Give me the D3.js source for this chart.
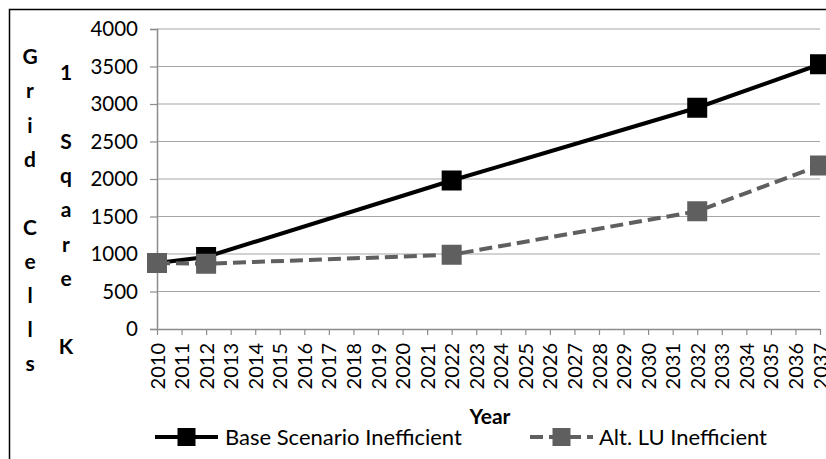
<!DOCTYPE html>
<html>
<head>
<meta charset="utf-8">
<script src="https://cdn.jsdelivr.net/npm/d3@7"></script>
<style>
  html, body { margin: 0; padding: 0; background: #fff; }
  svg { display: block; font-family: Lato, "Open Sans", sans-serif; }
</style>
</head>
<body>
<svg id="chart" width="826" height="459"></svg>
<script>
// Category axis: every year from 2010 to 2037
const years = d3.range(2010, 2038);
// Years with observations
const pointYears = [2010, 2012, 2022, 2032, 2037];
// Series values (grid cells)
const baseValues = [880, 960, 1980, 2950, 3530];
const altValues = [880, 870, 990, 1570, 2180];
const yTicks = [0, 500, 1000, 1500, 2000, 2500, 3000, 3500, 4000];
const seriesNames = ["Base Scenario Inefficient", "Alt. LU Inefficient"];
// Y title, one character per line, in two columns
const yTitleCol1 = ["G", "r", "i", "d", "", "C", "e", "l", "l", "s"];
const yTitleCol2 = ["1", "", "S", "q", "a", "r", "e", "", "K"];

const svg = d3.select("#chart");
const plotLeft = 157, plotRight = 820, plotTop = 29, plotBottom = 329;

const x = d3.scalePoint().domain(years).range([plotLeft, plotRight]).padding(0);
const y = d3.scaleLinear().domain([0, 4000]).range([plotBottom, plotTop]);

// Outer frame
svg.append("rect")
  .attr("x", 9.5).attr("y", 9.5)
  .attr("width", 840).attr("height", 470)
  .attr("fill", "none").attr("stroke", "#000").attr("stroke-width", 1.5);

// Horizontal gridlines
svg.append("g")
  .selectAll("line")
  .data(yTicks.filter(d => d > 0))
  .join("line")
  .attr("x1", plotLeft).attr("x2", plotRight)
  .attr("y1", d => y(d)).attr("y2", d => y(d))
  .attr("stroke", "#a6a6a6").attr("stroke-width", 1.2);

// Y axis
const yAxis = svg.append("g")
  .attr("transform", `translate(${plotLeft},0)`)
  .call(d3.axisLeft(y).tickValues(yTicks).tickSize(7).tickPadding(12).tickFormat(d3.format("d")));
yAxis.select(".domain").attr("stroke", "#8c8c8c").attr("stroke-width", 1.5);
yAxis.selectAll(".tick line").attr("stroke", "#8c8c8c").attr("stroke-width", 1.2);
yAxis.selectAll("text").attr("font-size", 20.5).attr("fill", "#000")
  .attr("font-family", "Lato, sans-serif");

// X axis
const xAxis = svg.append("g")
  .attr("transform", `translate(0,${plotBottom})`)
  .call(d3.axisBottom(x).tickSize(6).tickSizeOuter(0));
xAxis.select(".domain").attr("stroke", "#8c8c8c").attr("stroke-width", 1.5);
xAxis.selectAll(".tick line").attr("stroke", "#8c8c8c").attr("stroke-width", 1.2);
xAxis.selectAll("text")
  .attr("font-size", 20).attr("fill", "#000")
  .attr("font-family", "Lato, sans-serif")
  .attr("text-anchor", "end")
  .attr("transform", "rotate(-90)")
  .attr("x", -14).attr("y", 0).attr("dy", "0.35em");

// X title
svg.append("text")
  .attr("x", 490).attr("y", 424)
  .attr("text-anchor", "middle")
  .attr("font-size", 21).attr("font-weight", "bold")
  .text("Year");

// Y title columns
svg.append("g").selectAll("text")
  .data(yTitleCol1)
  .join("text")
  .attr("x", 30).attr("y", (d, i) => 57 + i * 34.1)
  .attr("dy", "0.35em")
  .attr("text-anchor", "middle")
  .attr("font-size", 21).attr("font-weight", "bold")
  .text(d => d);
svg.append("g").selectAll("text")
  .data(yTitleCol2)
  .join("text")
  .attr("x", 66).attr("y", (d, i) => 73 + i * 34.25)
  .attr("dy", "0.35em")
  .attr("text-anchor", "middle")
  .attr("font-size", 21).attr("font-weight", "bold")
  .text(d => d);

const line = d3.line().x(d => x(d.year)).y(d => y(d.value));
const baseData = pointYears.map((yr, i) => ({ year: yr, value: baseValues[i] }));
const altData = pointYears.map((yr, i) => ({ year: yr, value: altValues[i] }));

const styles = [
  { data: baseData, color: "#000000", dash: null },
  { data: altData, color: "#5f5f5f", dash: "13,6" }
];

const ms = 20;
styles.forEach(s => {
  svg.append("path")
    .datum(s.data)
    .attr("d", line)
    .attr("fill", "none")
    .attr("stroke", s.color)
    .attr("stroke-width", 4)
    .attr("stroke-dasharray", s.dash);
  svg.append("g").selectAll("rect")
    .data(s.data)
    .join("rect")
    .attr("x", d => x(d.year) - ms / 2)
    .attr("y", d => y(d.value) - ms / 2)
    .attr("width", ms).attr("height", ms)
    .attr("fill", s.color);
});

// Legend
const legendItems = [
  { name: seriesNames[0], x0: 155, x1: 218, tx: 225, color: "#000000", dash: null },
  { name: seriesNames[1], x0: 530, x1: 593, tx: 599, color: "#5f5f5f", dash: "13,6" }
];
const ly = 437;
legendItems.forEach(it => {
  svg.append("line")
    .attr("x1", it.x0).attr("x2", it.x1)
    .attr("y1", ly).attr("y2", ly)
    .attr("stroke", it.color).attr("stroke-width", 4)
    .attr("stroke-dasharray", it.dash);
  svg.append("rect")
    .attr("x", (it.x0 + it.x1) / 2 - 9).attr("y", ly - 9)
    .attr("width", 18).attr("height", 18)
    .attr("fill", it.color);
  svg.append("text")
    .attr("x", it.tx).attr("y", ly)
    .attr("dy", "0.35em")
    .attr("font-size", 22)
    .attr("fill", "#000")
    .text(it.name);
});
</script>
</body>
</html>
